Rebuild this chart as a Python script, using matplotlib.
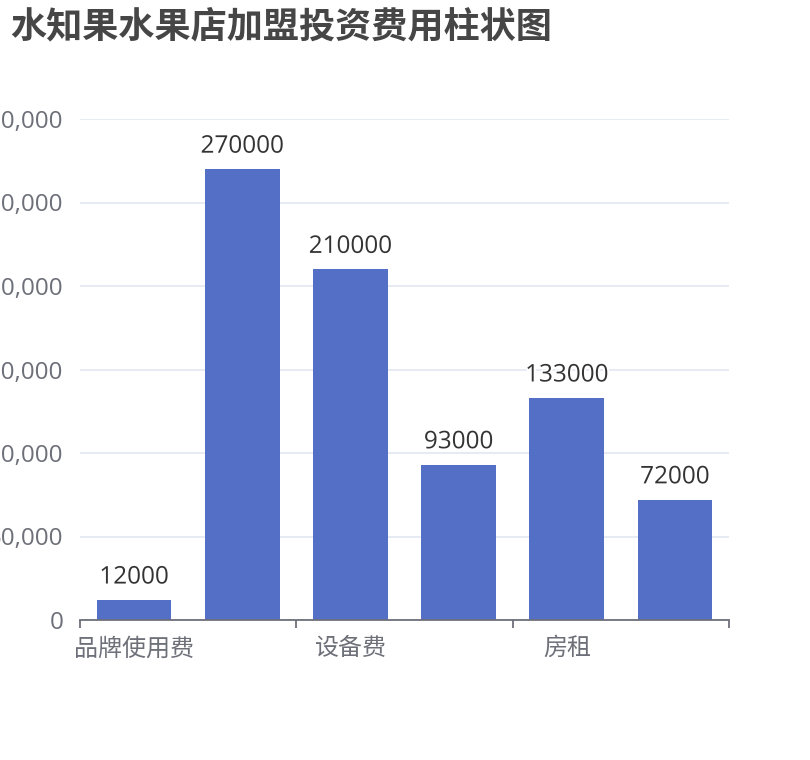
import matplotlib
matplotlib.use("Agg")
import matplotlib.pyplot as plt
import matplotlib.patheffects as pe
from matplotlib.ticker import FuncFormatter, FixedLocator

plt.rcParams['font.family'] = ['Open Sans', 'Noto Sans CJK SC', 'DejaVu Sans']

title = "水知果水果店加盟投资费用柱状图"
categories = ["品牌使用费", "装修费", "设备费", "首批进货费", "房租", "流动资金"]
values = [12000, 270000, 210000, 93000, 133000, 72000]
y_ticks = [0, 50000, 100000, 150000, 200000, 250000, 300000]

W, H = 810, 760
fig = plt.figure(figsize=(W / 100, H / 100), dpi=100)
ax = fig.add_axes([80 / W, 1 - 620 / H, (729 - 80) / W, (620 - 119) / H])

x = list(range(len(categories)))
ax.bar(x, values, width=0.69, color="#5470c6", zorder=3)
for xi, v in zip(x, values):
    ax.annotate(str(v), (xi, v), xytext=(0, 7.5), textcoords="offset points",
                ha="center", va="bottom", fontsize=17.5, color="#333333",
                path_effects=[pe.withStroke(linewidth=3, foreground="white")], zorder=5)

ax.set_xlim(-0.5, len(categories) - 0.5)
ax.set_ylim(0, 300000)
ax.yaxis.set_major_locator(FixedLocator(y_ticks))
ax.yaxis.set_major_formatter(FuncFormatter(lambda v, p: f"{int(v):,}"))
ax.grid(axis="y", color="#e0e6f1", linewidth=1.2, zorder=0)
ax.tick_params(axis="y", length=0, pad=12, labelsize=17.5, labelcolor="#6e7079")

# x axis: ticks at every second band boundary, labels at every other category
ax.xaxis.set_major_locator(FixedLocator([-0.5, 1.5, 3.5, 5.5]))
ax.xaxis.set_major_formatter(FuncFormatter(lambda v, p: ""))
shown = x[::2]
ax.xaxis.set_minor_locator(FixedLocator(shown))
ax.set_xticklabels([categories[i] for i in shown], minor=True,
                   family=['Noto Sans CJK SC', 'DejaVu Sans'])
ax.tick_params(axis="x", which="major", length=6, width=1.3, color="#6e7079", direction="out")
ax.tick_params(axis="x", which="minor", length=0, pad=11, labelsize=17.3, labelcolor="#6e7079")

for s in ["top", "right", "left"]:
    ax.spines[s].set_visible(False)
ax.spines["bottom"].set_color("#6e7079")
ax.spines["bottom"].set_linewidth(1.3)
ax.spines["bottom"].set_zorder(4)

fig.text(10 / W, 1 - 27 / H, title, fontsize=26, fontweight="bold", color="#464646",
         ha="left", va="center", family=['Noto Sans CJK SC', 'DejaVu Sans'])

fig.savefig("out.png", dpi=100, facecolor="white")
